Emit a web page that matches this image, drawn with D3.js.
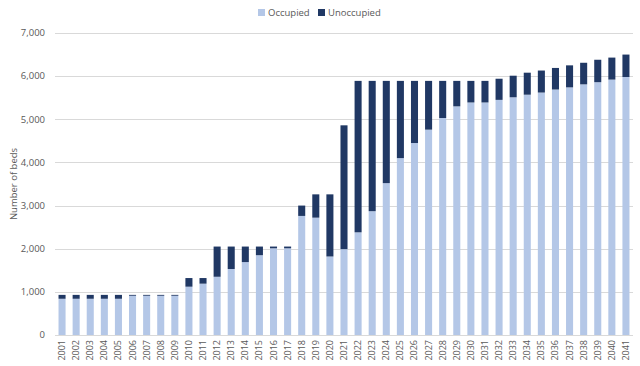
<!DOCTYPE html>
<html>
<head>
<meta charset="utf-8">
<script src="https://cdn.jsdelivr.net/npm/d3@7"></script>
<style>
  body { margin: 0; background: #fff; }
  svg text { font-family: "Open Sans", "Liberation Sans", sans-serif; fill: #595959; }
</style>
</head>
<body>
<div id="chart"></div>
<script>
const WIDTH = 640;
const HEIGHT = 366;

const years = d3.range(2001, 2042).map(String);
const occupied = [840, 840, 840, 840, 840, 910, 910, 910, 910, 1120,
  1190, 1350, 1530, 1690, 1850, 2010, 2010, 2760, 2720, 1820,
  1990, 2380, 2870, 3520, 4100, 4450, 4760, 5030, 5300, 5390,
  5390, 5450, 5510, 5570, 5620, 5690, 5740, 5810, 5860, 5920, 5980];
const total = [930, 930, 930, 930, 930, 930, 930, 930, 930, 1320,
  1320, 2050, 2050, 2050, 2050, 2050, 2050, 3000, 3260, 3260,
  4860, 5890, 5890, 5890, 5890, 5890, 5890, 5890, 5890, 5890,
  5890, 5940, 6010, 6080, 6130, 6190, 6250, 6310, 6380, 6430, 6500];
const seriesNames = ["Occupied", "Unoccupied"];
const yTicks = [0, 1000, 2000, 3000, 4000, 5000, 6000, 7000];

const COLORS = { Occupied: "#b4c7e7", Unoccupied: "#203864" };

const margin = { top: 33, right: 7, bottom: 31, left: 55 };
const width = WIDTH - margin.left - margin.right;
const height = HEIGHT - margin.top - margin.bottom;

const rows = years.map((y, i) => ({
  year: y,
  Occupied: occupied[i],
  Unoccupied: total[i] - occupied[i]
}));

const svg = d3.select("#chart").append("svg")
  .attr("width", WIDTH)
  .attr("height", HEIGHT);

const g = svg.append("g")
  .attr("transform", `translate(${margin.left},${margin.top})`);

const x = d3.scaleBand()
  .domain(years)
  .range([0, width])
  .paddingInner(0.5)
  .paddingOuter(0.25);

const y = d3.scaleLinear()
  .domain([0, 7000])
  .range([height, 0]);

// gridlines
g.append("g")
  .selectAll("line")
  .data(yTicks)
  .join("line")
  .attr("x1", 0)
  .attr("x2", width)
  .attr("y1", d => Math.round(y(d)) + 0.5)
  .attr("y2", d => Math.round(y(d)) + 0.5)
  .attr("stroke", "#d9d9d9")
  .attr("stroke-width", 1);

// y labels
g.append("g")
  .selectAll("text")
  .data(yTicks)
  .join("text")
  .attr("x", -10)
  .attr("y", d => y(d))
  .attr("dy", "0.35em")
  .attr("text-anchor", "end")
  .style("font-size", "9.5px")
  .text(d => d3.format(",")(d));

// stacked bars
const stack = d3.stack().keys(seriesNames)(rows);

g.append("g")
  .selectAll("g")
  .data(stack)
  .join("g")
  .attr("fill", d => COLORS[d.key])
  .selectAll("rect")
  .data(d => d)
  .join("rect")
  .attr("x", d => x(d.data.year))
  .attr("width", x.bandwidth())
  .attr("y", d => y(d[1]))
  .attr("height", d => y(d[0]) - y(d[1]));

// x labels
g.append("g")
  .selectAll("text")
  .data(years)
  .join("text")
  .attr("transform", d => `translate(${x(d) + x.bandwidth() / 2 + 3},${height + 5}) rotate(-90)`)
  .attr("text-anchor", "end")
  .style("font-size", "9px")
  .text(d => d);

// y title
svg.append("text")
  .attr("transform", `translate(17,${margin.top + height / 2}) rotate(-90)`)
  .attr("text-anchor", "middle")
  .style("font-size", "9.5px")
  .text("Number of beds");

// legend
const legend = svg.append("g").attr("transform", "translate(258,13)");
const lx = [0, 60];
seriesNames.forEach((name, i) => {
  legend.append("rect")
    .attr("x", lx[i])
    .attr("y", -4)
    .attr("width", 7)
    .attr("height", 7)
    .attr("fill", COLORS[name]);
  legend.append("text")
    .attr("x", lx[i] + 10)
    .attr("y", 0)
    .attr("dy", "0.35em")
    .style("font-size", "9.5px")
    .text(name);
});
</script>
</body>
</html>
